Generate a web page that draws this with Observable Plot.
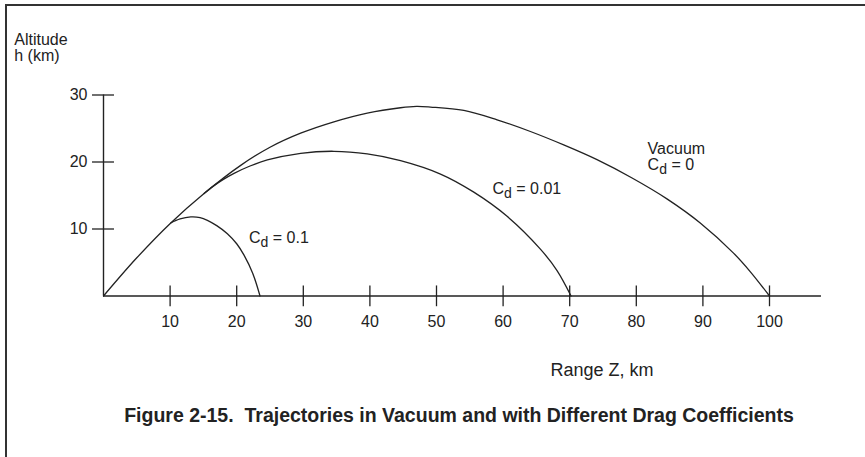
<!DOCTYPE html>
<html>
<head>
<meta charset="utf-8">
<script src="https://cdn.jsdelivr.net/npm/d3@7"></script>
<script src="https://cdn.jsdelivr.net/npm/@observablehq/plot@0.6"></script>
<style>
  html, body { margin: 0; padding: 0; background: #fff; }
  #wrap { position: relative; width: 865px; height: 457px; overflow: hidden; }
  #frame { position: absolute; left: 5px; top: 4px; right: -10px; bottom: -10px;
           border-top: 2px solid #333; border-left: 2px solid #333; pointer-events: none; }
</style>
</head>
<body>
<div id="wrap"><div id="frame"></div></div>
<script>
// ---- data ----
const vacuumX = [0, 5, 10.1, 15.1, 20.6, 25, 29.6, 34.6, 39.6, 44.6, 47, 49.1, 54.1, 59.1, 64.1, 69.1, 74.1, 79.3, 84.6, 89.6, 94.6, 97.1, 100];
const vacuumY = [0, 5.7, 10.9, 15.3, 19.5, 22.2, 24.3, 26.0, 27.3, 28.1, 28.3, 28.2, 27.7, 26.3, 24.55, 22.55, 20.35, 17.65, 14.5, 10.9, 6.4, 3.65, 0];
const cd001X = [15.1, 16.5, 18, 19.6, 22, 24.6, 29.6, 34.6, 39.6, 44.6, 50.6, 55.6, 60.6, 65.6, 68.1, 70.2];
const cd001Y = [15.3, 16.4, 17.4, 18.3, 19.4, 20.3, 21.3, 21.6, 21.2, 20.2, 18.2, 15.5, 11.9, 7.0, 3.8, 0];
const cd01X = [10.1, 11.5, 13.1, 14.5, 15.6, 17, 18.6, 20, 21.1, 22.4, 23.5];
const cd01Y = [10.9, 11.5, 11.8, 11.7, 11.3, 10.5, 9.3, 7.8, 6.1, 3.4, 0];
const xTicks = [10, 20, 30, 40, 50, 60, 70, 80, 90, 100];
const yTicks = [10, 20, 30];
const curveNames = ["Vacuum", "Cd = 0.01", "Cd = 0.1"];
const labelTexts = ["Cd = 0.1", "Cd = 0.01", "Vacuum\nCd = 0"];
const labelX = [21.85, 58.4, 81.7];
const labelY = [8.7, 16.0, 20.8];
const yTitle = "Altitude\nh (km)";
const xTitle = "Range Z, km";
const figTitle = "Figure 2-15.  Trajectories in Vacuum and with Different Drag Coefficients";

const rows = [
  ...vacuumX.map((x, i) => ({curve: curveNames[0], x, y: vacuumY[i]})),
  ...cd001X.map((x, i) => ({curve: curveNames[1], x, y: cd001Y[i]})),
  ...cd01X.map((x, i) => ({curve: curveNames[2], x, y: cd01Y[i]}))
];
const labels = labelTexts.map((t, i) => ({t, x: labelX[i], y: labelY[i]}));

const ink = "#222";
const font = "Liberation Sans, Arial, Helvetica, sans-serif";

const chart = Plot.plot({
  width: 865,
  height: 457,
  marginLeft: 103,
  marginRight: 96,
  marginTop: 94.5,
  marginBottom: 161.5,
  style: {fontFamily: font, fontSize: "16px", color: ink, background: "transparent", overflow: "visible"},
  x: {domain: [0, 100]},
  y: {domain: [0, 30]},
  marks: [
    // axis lines
    Plot.ruleY([0], {x1: 0, x2: 107.8, stroke: ink, strokeWidth: 1.4}),
    Plot.ruleX([0], {y1: 0, y2: 30, stroke: ink, strokeWidth: 1.4}),
    // crossing tick marks
    Plot.ruleX(xTicks, {x: d => d, y1: -1.6, y2: 1.5, stroke: ink, strokeWidth: 1.3}),
    Plot.ruleY(yTicks, {y: d => d, x1: -1.65, x2: 1.65, stroke: ink, strokeWidth: 1.3}),
    Plot.axisX({ticks: xTicks, tickSize: 0, tickPadding: 20, fontSize: 16, label: null, tickFormat: d => String(d)}),
    Plot.axisY({ticks: yTicks, tickSize: 0, tickPadding: 16, fontSize: 16, label: null, tickFormat: d => String(d)}),
    // trajectories
    Plot.line(rows, {x: "x", y: "y", z: "curve", curve: "catmull-rom", stroke: ink, strokeWidth: 1.3}),
    // curve labels
    Plot.text(labels, {x: "x", y: "y", text: "t", textAnchor: "start", lineAnchor: "middle", lineHeight: 1.05, fontSize: 16, fill: ink}),
    // titles
    Plot.text([yTitle], {x: -13.4, y: 39.3, text: d => d, textAnchor: "start", lineAnchor: "top", lineHeight: 1.05, fontSize: 16, fill: ink}),
    Plot.text([xTitle], {x: 67.1, y: -11.1, text: d => d, textAnchor: "start", lineAnchor: "middle", fontSize: 18, fill: ink}),
    Plot.text([figTitle], {frameAnchor: "bottom", dx: 22.5, dy: 119.5, text: d => d, lineAnchor: "middle", fontSize: 19.5, fontWeight: "bold", fill: ink})
  ]
});

// subscript "d" in C_d labels
d3.select(chart).selectAll("text, tspan").each(function () {
  const el = this;
  if (el.querySelector("tspan")) return;
  const s = el.textContent;
  const k = s.indexOf("Cd");
  if (k < 0) return;
  el.textContent = "";
  el.appendChild(document.createTextNode(s.slice(0, k) + "C"));
  const sub = document.createElementNS("http://www.w3.org/2000/svg", "tspan");
  sub.setAttribute("dy", "4");
  sub.setAttribute("font-size", "14");
  sub.textContent = "d";
  el.appendChild(sub);
  const rest = document.createElementNS("http://www.w3.org/2000/svg", "tspan");
  rest.setAttribute("dy", "-4");
  rest.textContent = s.slice(k + 2);
  el.appendChild(rest);
});

const wrap = document.getElementById("wrap");
chart.style.position = "absolute";
chart.style.left = "0";
chart.style.top = "0";
wrap.insertBefore(chart, wrap.firstChild);
</script>
</body>
</html>
